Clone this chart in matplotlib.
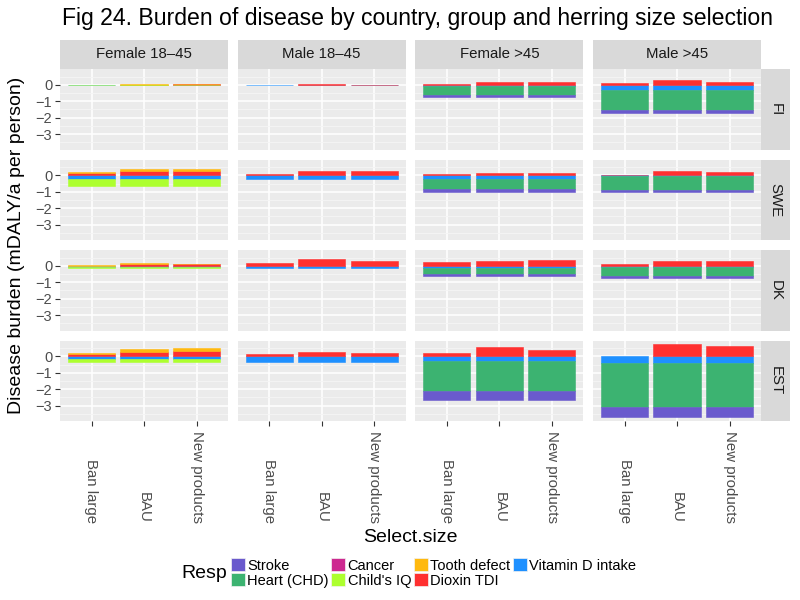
import numpy as np
import matplotlib.pyplot as plt
from matplotlib.patches import Patch
from matplotlib.transforms import blended_transform_factory

plt.rcParams['font.family'] = ['Liberation Sans', 'DejaVu Sans']

countries = ['FI', 'SWE', 'DK', 'EST']
groups = ['Female 18–45', 'Male 18–45', 'Female >45', 'Male >45']
sizes = ['Ban large', 'BAU', 'New products']
resp = ['Stroke', 'Heart (CHD)', 'Cancer', "Child's IQ", 'Tooth defect',
        'Dioxin TDI', 'Vitamin D intake']
colors = ['#6A5ACD', '#3CB371', '#CD2990', '#ADFF2F', '#FFB90F',
          '#FF3030', '#1E90FF']

# values as [country][group][select size], mDALY/a per person
stroke = [
    [[0, 0, 0], [0, 0, 0], [-0.14, -0.14, -0.14], [-0.16, -0.16, -0.16]],
    [[0, 0, 0], [0, 0, 0], [-0.14, -0.14, -0.14], [-0.14, -0.14, -0.14]],
    [[0, 0, 0], [0, 0, 0], [-0.16, -0.16, -0.16], [-0.12, -0.12, -0.12]],
    [[0, 0, 0], [0, 0, 0], [-0.51, -0.51, -0.51], [-0.61, -0.61, -0.61]],
]
heart = [
    [[0, 0, 0], [0, 0, 0], [-0.53, -0.53, -0.53], [-1.23, -1.23, -1.23]],
    [[0, 0, 0], [0, 0, 0], [-0.61, -0.61, -0.61], [-0.84, -0.84, -0.84]],
    [[0, 0, 0], [0, 0, 0], [-0.36, -0.36, -0.36], [-0.55, -0.55, -0.55]],
    [[0, 0, 0], [0, 0, 0], [-1.84, -1.84, -1.84], [-2.68, -2.68, -2.68]],
]
cancer = [
    [[0, 0, 0], [0, 0, 0], [0, 0, 0], [0, 0, 0]],
    [[0, 0, 0], [0, 0, 0], [0, 0, 0], [0, 0, 0]],
    [[0, 0, 0], [0, 0, 0], [0, 0, 0], [0, 0, 0]],
    [[0, 0, 0], [0, 0, 0], [0, 0, 0], [0, 0, 0]],
]
child_iq = [
    [[-0.01, -0.01, -0.01], [0, 0, 0], [0, 0, 0], [0, 0, 0]],
    [[-0.43, -0.43, -0.43], [0, 0, 0], [0, 0, 0], [0, 0, 0]],
    [[-0.04, -0.04, -0.04], [0, 0, 0], [0, 0, 0], [0, 0, 0]],
    [[-0.17, -0.17, -0.17], [0, 0, 0], [0, 0, 0], [0, 0, 0]],
]
tooth = [
    [[0, 0.02, 0.03], [0, 0, 0], [0, 0, 0], [0, 0, 0]],
    [[0.06, 0.14, 0.14], [0, 0, 0], [0, 0, 0], [0, 0, 0]],
    [[0.02, 0.08, 0.04], [0, 0, 0], [0, 0, 0], [0, 0, 0]],
    [[0.06, 0.18, 0.18], [0, 0, 0], [0, 0, 0], [0, 0, 0]],
]
dioxin = [
    [[0, 0.01, 0.02], [0, 0.05, 0.01], [0.06, 0.16, 0.18], [0.08, 0.29, 0.20]],
    [[0.16, 0.25, 0.25], [0.10, 0.27, 0.29], [0.05, 0.14, 0.12], [0.04, 0.29, 0.18]],
    [[0, 0.10, 0.08], [0.20, 0.43, 0.29], [0.22, 0.31, 0.35], [0.14, 0.29, 0.29]],
    [[0.12, 0.27, 0.31], [0.14, 0.29, 0.22], [0.22, 0.55, 0.39], [0, 0.74, 0.63]],
]
vit_d = [
    [[-0.03, -0.03, -0.03], [-0.03, -0.03, -0.03], [-0.08, -0.08, -0.08], [-0.30, -0.30, -0.30]],
    [[-0.22, -0.22, -0.22], [-0.20, -0.20, -0.20], [-0.25, -0.25, -0.25], [-0.06, -0.06, -0.06]],
    [[-0.07, -0.08, -0.08], [-0.14, -0.14, -0.14], [-0.13, -0.13, -0.13], [-0.06, -0.06, -0.06]],
    [[-0.18, -0.18, -0.18], [-0.35, -0.35, -0.35], [-0.29, -0.29, -0.29], [-0.43, -0.43, -0.43]],
]

series = [np.array(s, dtype=float) for s in
          (stroke, heart, cancer, child_iq, tooth, dioxin, vit_d)]

# shared y range like ggplot (5% expansion)
allv = np.stack(series)
top = np.clip(allv, 0, None).sum(axis=0).max()
bot = np.clip(allv, None, 0).sum(axis=0).min()
pad = (top - bot) * 0.05
ylim = (bot - pad, top + pad)

W, H = 800, 600
fig = plt.figure(figsize=(8, 6), dpi=100)

left, pw, gx = 60, 168, 9.67
ptop, ph, gy = 69, 80.5, 10
strip_h, strip_w = 29.5, 29
panel_bg = '#EBEBEB'
strip_bg = '#D9D9D9'
tick_col = '#4D4D4D'


def fax(x0, y0, w, h):
    return fig.add_axes([x0 / W, 1 - (y0 + h) / H, w / W, h / H])


xs = np.arange(len(sizes))
for r, country in enumerate(countries):
    for c, group in enumerate(groups):
        x0 = left + c * (pw + gx)
        y0 = ptop + r * (ph + gy)
        ax = fax(x0, y0, pw, ph)
        ax.set_facecolor(panel_bg)
        for s in ax.spines.values():
            s.set_visible(False)
        pos = np.zeros(len(sizes))
        neg = np.zeros(len(sizes))
        for k in range(len(resp) - 1, -1, -1):
            v = series[k][r, c]
            b = np.where(v >= 0, pos, neg)
            nz = v != 0
            ax.bar(xs[nz], v[nz], bottom=b[nz], width=0.9, color=colors[k],
                   edgecolor=colors[k], linewidth=0.4, zorder=3)
            pos += np.clip(v, 0, None)
            neg += np.clip(v, None, 0)
        ax.set_xlim(-0.6, len(sizes) - 0.4)
        ax.set_ylim(*ylim)
        ax.set_xticks(xs)
        ax.set_yticks([0, -1, -2, -3])
        ax.set_yticks([0.5, -0.5, -1.5, -2.5, -3.5], minor=True)
        ax.grid(which='major', color='white', linewidth=1.1, zorder=1)
        ax.grid(which='minor', axis='y', color='#F5F5F5', linewidth=0.6, zorder=0)
        ax.set_axisbelow(True)
        ax.tick_params(which='minor', length=0)
        ax.tick_params(which='major', color='#333333', length=3.5, width=0.8,
                       labelsize=10.5, labelcolor=tick_col, pad=2)
        ax.set_xticklabels([])
        if c != 0:
            ax.tick_params(axis='y', length=0, labelleft=False)
        if r != len(countries) - 1:
            ax.tick_params(axis='x', length=0)
        else:
            tr = blended_transform_factory(ax.transData, fig.transFigure)
            for i, lab in enumerate(sizes):
                ax.text(i, 1 - 523 / H, lab, transform=tr, rotation=-90,
                        ha='center', va='bottom', fontsize=10.8, color=tick_col)
        if r == 0:
            sa = fax(x0, y0 - strip_h, pw, strip_h)
            sa.set_facecolor(strip_bg)
            sa.set_xticks([])
            sa.set_yticks([])
            for s in sa.spines.values():
                s.set_visible(False)
            sa.text(0.5, 0.5, group, ha='center', va='center', fontsize=10.8,
                    color='#1A1A1A', transform=sa.transAxes)
        if c == len(groups) - 1:
            sa = fax(x0 + pw, y0, strip_w, ph)
            sa.set_facecolor(strip_bg)
            sa.set_xticks([])
            sa.set_yticks([])
            for s in sa.spines.values():
                s.set_visible(False)
            sa.text(0.5, 0.5, country, ha='center', va='center', fontsize=10.8,
                    rotation=-90, color='#1A1A1A', transform=sa.transAxes)

fig.text(417 / W, 1 - 19 / H, 'Fig 24. Burden of disease by country, group and herring size selection',
         ha='center', va='center', fontsize=16.6)
fig.text(410 / W, 1 - 538 / H, 'Select.size', ha='center', va='center', fontsize=14)
fig.text(17 / W, 1 - 245 / H, 'Disease burden (mDALY/a per person)', ha='center',
         va='center', rotation=90, fontsize=14)

fig.text(204 / W, 1 - 573 / H, 'Resp', ha='center', va='center', fontsize=14)
handles = [Patch(facecolor=col, edgecolor='#F2F2F2', linewidth=0.5) for col in colors]
fig.legend(handles, resp, loc='center left', bbox_to_anchor=(231 / W, 1 - 573 / H),
           ncol=4, frameon=False, fontsize=10.5, handlelength=0.95, handleheight=0.95,
           handletextpad=0.15, columnspacing=0.2, labelspacing=0.05, borderpad=0,
           borderaxespad=0)

fig.savefig('out.png', dpi=100)
